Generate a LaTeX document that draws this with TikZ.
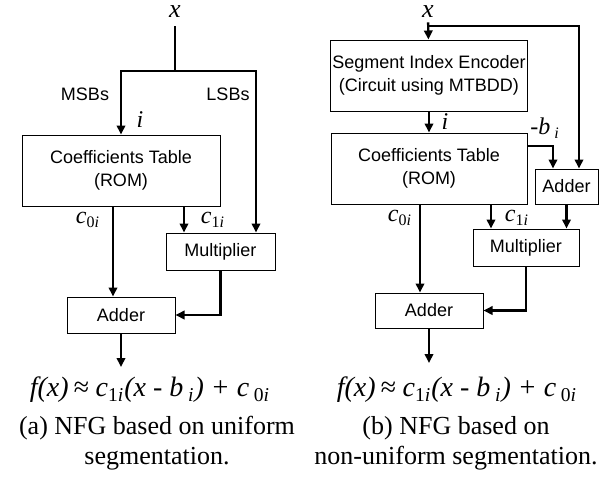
\documentclass[tikz,border=0pt]{standalone}
\usepackage{fontspec}
\setmainfont{Liberation Serif}
\setsansfont{Liberation Sans}
\usetikzlibrary{arrows.meta,positioning}

\begin{document}
\begin{tikzpicture}[x=0.5pt, y=-0.5pt,
    blk/.style={rectangle, draw, line width=0.5pt, inner sep=1pt, align=center, font=\sffamily\fontsize{9}{11.5}\selectfont},
    sig/.style={line width=1.2pt, -{Triangle[length=4.5pt,width=4.2pt]}},
    lbl/.style={inner sep=0pt, font=\itshape\fontsize{12}{14}\selectfont},
    tag/.style={inner sep=0pt, font=\sffamily\fontsize{9}{11}\selectfont},
    capt/.style={align=center, inner sep=0pt, font=\fontsize{13}{15}\selectfont}]
\useasboundingbox (0,0) rectangle (606,479);

% (a) uniform segmentation
\node[lbl, inner sep=4pt, font=\itshape\fontsize{13}{15}\selectfont] (xL) at (175,12) {x};
\coordinate (splitL) at (175,71);
\node[blk, minimum width=99pt, minimum height=35.5pt] (coefL) at (121,170.5) {Coefficients Table\\(ROM)};
\node[blk, minimum width=54.5pt, minimum height=18.5pt] (mulL) at (220.5,251.5) {Multiplier};
\node[blk, minimum width=54pt, minimum height=18pt] (addL) at (121,315) {Adder};
\coordinate (outL) at (121,367);
\node[lbl, font=\itshape\fontsize{14}{16}\selectfont] (fL) at (150,390) {f(x)\,≈ c\textsubscript{{\upshape 1}i}(x - b\,\textsubscript{i}) + c\,\textsubscript{{\upshape 0}i}};
\node[capt] (captL) at (157,443) {(a) NFG based on uniform\\segmentation.};

\draw[line width=1.2pt] (xL) -- (splitL);
\draw[sig] (splitL) -| (coefL);
\draw[sig] (splitL) -| ([xshift=17.75pt]mulL.north);
\node[tag] (msbL) at (85,94) {MSBs};
\node[tag] (lsbL) at (228,94) {LSBs};
\node[lbl] (iL) at (140,120) {i};
\draw[sig] ([xshift=-4pt]coefL.south) -- ([xshift=-4pt]addL.north);
\draw[sig] ([xshift=31.5pt]coefL.south) -- ([xshift=31.5pt]coefL.south |- mulL.north);
\node[lbl] (c0L) at (88,220) {c\textsubscript{{\upshape 0}i}};
\node[lbl] (c1L) at (213,220) {c\textsubscript{{\upshape 1}i}};
\draw[sig] (mulL.south) |- (addL.east);
\draw[sig] (addL.south) -- (outL);

% (b) non-uniform segmentation
\node[lbl, inner sep=2pt, font=\itshape\fontsize{13}{15}\selectfont] (xR) at (428,12) {x};
\coordinate (splitR) at (428,26);
\node[blk, minimum width=98pt, minimum height=35.5pt] (segR) at (429,75.5) {Segment Index Encoder\\(Circuit using MTBDD)};
\node[blk, minimum width=98pt, minimum height=35.5pt] (coefR) at (429,168.5) {Coefficients Table\\(ROM)};
\node[blk, minimum width=31.5pt, minimum height=17.5pt] (add2R) at (566.5,186.5) {Adder};
\node[blk, minimum width=53pt, minimum height=18.5pt] (mulR) at (526,247.5) {Multiplier};
\node[blk, minimum width=54pt, minimum height=17.5pt] (addR) at (429,310.5) {Adder};
\coordinate (outR) at (429,363);
\node[lbl, font=\itshape\fontsize{14}{16}\selectfont] (fR) at (457,390) {f(x)\,≈ c\textsubscript{{\upshape 1}i}(x - b\,\textsubscript{i}) + c\,\textsubscript{{\upshape 0}i}};
\node[capt] (captR) at (456,443) {(b) NFG based on\\non-uniform segmentation.};

\draw[sig] (xR) -- (segR);
\draw[sig] (splitR) -| ([xshift=6.25pt]add2R.north);
\draw[sig] (segR) -- (coefR);
\node[lbl] (iR) at (445,122) {i};
\draw[sig] ([yshift=11.25pt]coefR.east) -| ([xshift=-6.75pt]add2R.north);
\node[lbl] (bR) at (545,128) {-b\,\textsubscript{i}};
\draw[sig] (add2R.south) -- (add2R.south |- mulR.north);
\draw[sig] ([xshift=-4.5pt]coefR.south) -- ([xshift=-4.5pt]coefR.south |- addR.north);
\draw[sig] ([xshift=31pt]coefR.south) -- ([xshift=31pt]coefR.south |- mulR.north);
\node[lbl] (c0R) at (400,218) {c\textsubscript{{\upshape 0}i}};
\node[lbl] (c1R) at (517,218) {c\textsubscript{{\upshape 1}i}};
\draw[sig] (mulR.south) |- (addR.east);
\draw[sig] (addR.south) -- (outR);
\end{tikzpicture}
\end{document}
